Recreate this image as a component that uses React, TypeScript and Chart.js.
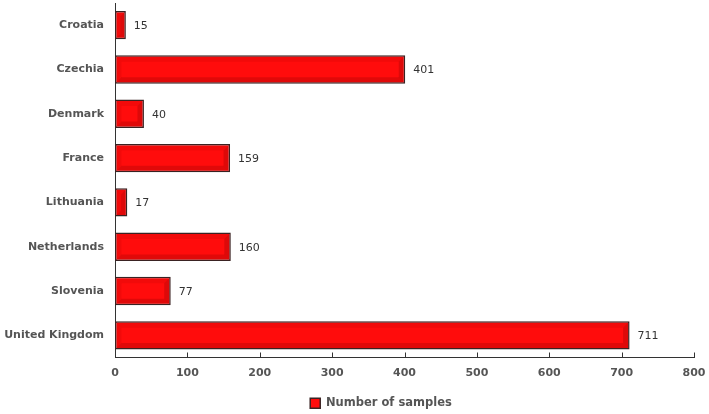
import React, { useEffect, useRef } from "react";
import { Chart, registerables } from "chart.js";

Chart.register(...registerables);

const countries = ["Croatia", "Czechia", "Denmark", "France", "Lithuania", "Netherlands", "Slovenia", "United Kingdom"];
const samples = [15, 401, 40, 159, 17, 160, 77, 711];
const seriesName = "Number of samples";
const xMin = 0;
const xMax = 800;
const xStep = 100;

const FONT = "'DejaVu Sans', Verdana, sans-serif";

const bevelPlugin = {
  id: "bevel",
  afterDatasetsDraw(chart: any) {
    const ctx = chart.ctx;
    const meta = chart.getDatasetMeta(0);
    meta.data.forEach((bar: any) => {
      const p = bar.getProps(["x", "y", "base", "height"], true);
      const bw = 1.5;
      const l = Math.min(p.base, p.x) + bw;
      const r = Math.max(p.base, p.x) - bw;
      const t = p.y - p.height / 2 + bw;
      const b = p.y + p.height / 2 - bw;
      const s = Math.min(5, (r - l) / 2, (b - t) / 2);
      const poly = (pts: number[][], color: string) => {
        ctx.beginPath();
        ctx.moveTo(pts[0][0], pts[0][1]);
        for (let i = 1; i < pts.length; i++) ctx.lineTo(pts[i][0], pts[i][1]);
        ctx.closePath();
        ctx.fillStyle = color;
        ctx.fill();
      };
      ctx.save();
      poly([[l, t], [r, t], [r - s, t + s], [l + s, t + s]], "rgba(150,0,0,0.12)");
      poly([[l, t], [l + s, t + s], [l + s, b - s], [l, b]], "rgba(150,0,0,0.12)");
      poly([[l, b], [l + s, b - s], [r - s, b - s], [r, b]], "rgba(100,0,0,0.20)");
      poly([[r, t], [r, b], [r - s, b - s], [r - s, t + s]], "rgba(100,0,0,0.22)");
      ctx.restore();
    });
  },
};

const valueLabelPlugin = {
  id: "valueLabels",
  afterDatasetsDraw(chart: any) {
    const ctx = chart.ctx;
    const meta = chart.getDatasetMeta(0);
    ctx.save();
    ctx.font = `11px ${FONT}`;
    ctx.fillStyle = "#333333";
    ctx.textAlign = "left";
    ctx.textBaseline = "middle";
    meta.data.forEach((bar: any, i: number) => {
      const p = bar.getProps(["x", "y"], true);
      ctx.fillText(String(samples[i]), p.x + 8, p.y + 1);
    });
    ctx.restore();
  },
};

const xTickMarksPlugin = {
  id: "xTickMarks",
  afterDraw(chart: any) {
    const ctx = chart.ctx;
    const xs = chart.scales.x;
    const bottom = chart.chartArea.bottom;
    ctx.save();
    ctx.strokeStyle = "#333333";
    ctx.lineWidth = 1;
    xs.ticks.forEach((t: any) => {
      if (t.value === xMin) return;
      const px = Math.round(xs.getPixelForValue(t.value)) + 0.5;
      ctx.beginPath();
      ctx.moveTo(px, bottom);
      ctx.lineTo(px, bottom - 5);
      ctx.stroke();
    });
    ctx.restore();
  },
};

const legendShiftPlugin = {
  id: "legendShift",
  afterLayout(chart: any) {
    const lg = chart.legend;
    if (!lg) return;
    lg.left = 68;
    lg.top += 5;
    lg.bottom += 5;
  },
};

export default function App() {
  const ref = useRef<HTMLCanvasElement>(null);
  useEffect(() => {
    if (!ref.current) return;
    const chart = new Chart(ref.current, {
      type: "bar",
      data: {
        labels: countries,
        datasets: [
          {
            label: seriesName,
            data: samples,
            backgroundColor: "#ff0c0c",
            borderColor: "#3a2222",
            borderWidth: 1.5,
            borderSkipped: false,
            categoryPercentage: 1,
            barPercentage: 0.64,
          },
        ],
      },
      options: {
        indexAxis: "y",
        responsive: false,
        animation: false,
        devicePixelRatio: 1,
        layout: { padding: { left: 0, right: 15, top: 3, bottom: 0 } },
        plugins: {
          legend: {
            position: "bottom",
            labels: {
              boxWidth: 10,
              boxHeight: 10,
              padding: 10,
              color: "#555555",
              font: { family: FONT, size: 11.5, weight: "bold" },
            },
          },
          tooltip: { enabled: false },
        },
        scales: {
          x: {
            type: "linear",
            min: xMin,
            max: xMax,
            ticks: {
              stepSize: xStep,
              padding: 9,
              color: "#555555",
              font: { family: FONT, size: 11, weight: "bold" },
            },
            grid: { display: false, drawTicks: false },
            border: { display: true, color: "#333333", width: 1 },
            afterFit(scale: any) {
              scale.height = 25;
              scale.paddingLeft = 0;
              scale.paddingRight = 0;
            },
          },
          y: {
            ticks: {
              padding: 11,
              color: "#555555",
              font: { family: FONT, size: 11, weight: "bold" },
            },
            grid: { display: false, drawTicks: false },
            border: { display: true, color: "#333333", width: 1 },
            afterFit(scale: any) {
              scale.width = 115;
              scale.paddingTop = 0;
              scale.paddingBottom = 0;
            },
          },
        },
      },
      plugins: [bevelPlugin, valueLabelPlugin, xTickMarksPlugin, legendShiftPlugin],
    } as any);
    return () => chart.destroy();
  }, []);
  return (
    <div style={{ position: "absolute", left: 0, top: 0, width: 709, height: 414, background: "#fff" }}>
      <canvas ref={ref} width={709} height={414} style={{ width: 709, height: 414 }} />
    </div>
  );
}
